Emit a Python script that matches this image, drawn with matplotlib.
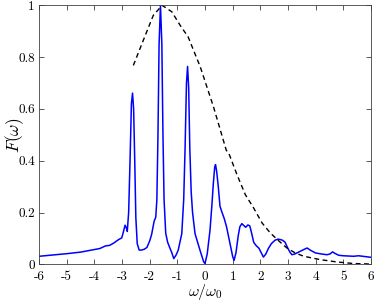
import matplotlib
matplotlib.use('Agg')
import matplotlib.pyplot as plt

plt.rcParams['mathtext.fontset'] = 'cm'

# blue spectrum F(omega)
omega = [-6.0, -5.0, -4.5, -4.0, -3.8, -3.7, -3.6, -3.45, -3.3, -3.13, -3.01,
         -2.95, -2.89, -2.84, -2.81, -2.76, -2.71, -2.66, -2.62, -2.58, -2.54,
         -2.50, -2.45, -2.38, -2.3, -2.2, -2.1, -2.0, -1.93, -1.84, -1.78,
         -1.74, -1.70, -1.66, -1.61, -1.56, -1.52, -1.48, -1.42, -1.35, -1.27,
         -1.20, -1.13, -1.05, -0.97, -0.84, -0.77, -0.72, -0.67, -0.63, -0.59,
         -0.55, -0.50, -0.45, -0.36, -0.18, -0.05, 0.0, 0.08, 0.18, 0.25,
         0.30, 0.35, 0.38, 0.42, 0.48, 0.54, 0.60, 0.70, 0.78, 0.90,
         1.00, 1.05, 1.12, 1.20, 1.26, 1.33, 1.40, 1.47, 1.55, 1.62,
         1.69, 1.76, 1.85, 1.95, 2.03, 2.11, 2.20, 2.29, 2.40, 2.53,
         2.63, 2.71, 2.80, 2.89, 2.98, 3.07, 3.14, 3.25, 3.40, 3.57,
         3.69, 3.80, 3.99, 4.2, 4.41, 4.52, 4.61, 4.70, 4.83, 5.0,
         5.37, 5.55, 5.7, 6.0]
F = [0.031, 0.041, 0.047, 0.057, 0.061, 0.066, 0.071, 0.073, 0.082, 0.095, 0.102,
     0.125, 0.151, 0.140, 0.127, 0.20, 0.40, 0.62, 0.661, 0.60, 0.40,
     0.18, 0.08, 0.055, 0.055, 0.058, 0.065, 0.09, 0.115, 0.166, 0.182,
     0.25, 0.50, 0.85, 1.0, 0.85, 0.50, 0.25, 0.12, 0.085, 0.063,
     0.045, 0.022, 0.035, 0.054, 0.118, 0.25, 0.45, 0.70, 0.764, 0.68,
     0.45, 0.28, 0.20, 0.118, 0.054, 0.01, 0.003, 0.04, 0.131, 0.23,
     0.311, 0.375, 0.385, 0.36, 0.30, 0.225, 0.205, 0.175, 0.144, 0.082,
     0.03, 0.015, 0.045, 0.11, 0.145, 0.157, 0.15, 0.143, 0.152, 0.148,
     0.118, 0.085, 0.072, 0.062, 0.045, 0.028, 0.040, 0.061, 0.080, 0.093,
     0.097, 0.096, 0.093, 0.086, 0.065, 0.047, 0.037, 0.040, 0.048, 0.057,
     0.063, 0.055, 0.044, 0.040, 0.037, 0.040, 0.048, 0.042, 0.035, 0.033,
     0.031, 0.033, 0.031, 0.027]

# dashed envelope
env_omega = [-2.59, -2.23, -1.87, -1.55, -1.2, -0.9, -0.61, -0.17, 0.31, 0.77,
             0.856, 1.156, 1.457, 1.76, 2.06, 2.36, 2.66, 2.96, 3.26, 3.57,
             4.17, 4.77, 5.37, 6.0]
env_F = [0.768, 0.865, 0.961, 1.0, 0.975, 0.923, 0.878, 0.762, 0.607, 0.44,
         0.430, 0.346, 0.269, 0.217, 0.160, 0.121, 0.091, 0.063, 0.044, 0.031,
         0.018, 0.009, 0.003, 0.001]

xticks = [-6, -5, -4, -3, -2, -1, 0, 1, 2, 3, 4, 5, 6]
yticks = [0, 0.2, 0.4, 0.6, 0.8, 1]
ytick_labels = ['0', '0.2', '0.4', '0.6', '0.8', '1']

fig = plt.figure(figsize=(3.74, 3.02), dpi=100)
ax = fig.add_axes([0.1043, 0.1248, 0.8877, 0.8576])

ax.plot(omega, F, color='#0000ff', lw=1.1)
ax.plot(env_omega, env_F, color='black', lw=1.0, ls=(0, (3.5, 2.5)))

ax.set_xlim(-6, 6)
ax.set_ylim(0, 1)
ax.set_xticks(xticks)
ax.set_xticklabels([str(t) for t in xticks], fontfamily='cmr10', fontsize=9.5)
ax.set_yticks(yticks)
ax.set_yticklabels(ytick_labels, fontfamily='cmr10', fontsize=9.5)
ax.tick_params(direction='in', length=3.5, width=0.6, color='#404040',
               top=True, right=True, pad=3)
ax.tick_params(axis='x', pad=5)
for s in ax.spines.values():
    s.set_linewidth(0.6)
    s.set_color('#404040')

ax.set_xlabel(r'$\omega/\omega_0$', fontsize=11.5, va='center')
ax.set_ylabel(r'$F(\omega)$', fontsize=12.5, va='center')
ax.xaxis.set_label_coords(0.5, -0.108)
ax.yaxis.set_label_coords(-0.072, 0.5)

fig.savefig('out.png', dpi=100)
